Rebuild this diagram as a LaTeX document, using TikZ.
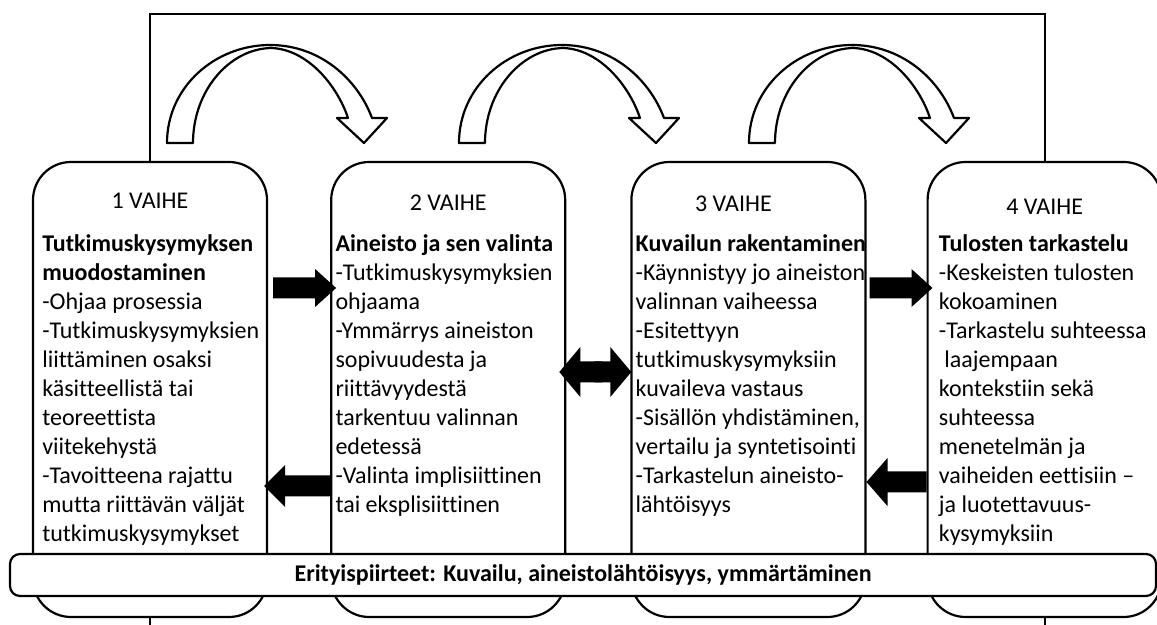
\documentclass[tikz,border=0pt]{standalone}
\usepackage{fontspec}
\setmainfont{Carlito}[Ligatures=NoCommon]
\usetikzlibrary{positioning, calc}

% black block arrow from #1 (tail) to #2 (tip), head half height #3
\newcommand{\blockarrow}[3]{%
  \fill let \p1=(#1), \p2=(#2), \n1={ifthenelse(\x2>\x1,1,-1)} in
    (\x1,\y1+5.25pt) -- (\x2-\n1*10.5pt,\y1+5.25pt) -- (\x2-\n1*10.5pt,\y1+#3) -- (\x2,\y1)
    -- (\x2-\n1*10.5pt,\y1-#3) -- (\x2-\n1*10.5pt,\y1-5.25pt) -- (\x1,\y1-5.25pt) -- cycle;}

\begin{document}
\begin{tikzpicture}[x=0.5pt, y=-0.5pt,
    every node/.style={font=\fontsize{12}{14.5}\selectfont},
    phase/.style={draw, line width=1.1pt, rounded corners=19pt, fill=white,
      minimum width=117pt, minimum height=227.5pt, inner sep=0pt},
    boxtext/.style={anchor=north west, align=left, inner sep=0pt},
    banner/.style={draw, line width=1.1pt, rounded corners=5pt, fill=white,
      minimum width=573pt, minimum height=21pt, inner sep=0pt, font=\fontsize{12}{14.5}\selectfont\bfseries},
    curvedarrow/.pic={
      \draw[line width=1.1pt, fill=white, line join=round]
        (0,0) -- (26,0) .. controls (26,-52) and (62,-94) .. (104,-95)
        .. controls (140,-94) and (170,-58) .. (181,-25) -- (170,-25) -- (197,0) -- (220,-25)
        -- (205,-25) .. controls (190,-65) and (152,-98) .. (103,-98)
        .. controls (48,-98) and (0,-56) .. (0,0) -- cycle;
    }]
    \useasboundingbox (0,0) rectangle (1157,625);

    % the four phases
    \node[phase] (b1) at (150,389.5) {};
    \node[phase] (b2) [right=31pt of b1] {};
    \node[phase] (b3) [right=32pt of b2] {};
    \node[phase] (b4) [right=30pt of b3] {};

    % frame round the process
    \draw[line width=1.1pt] (b1.north) -- (b1.north |- 0,14) -| (b4.north);
    \draw[line width=1.1pt] (b1.south) -- (b1.south |- 0,625);
    \draw[line width=1.1pt] (b4.south) -- (b4.south |- 0,625);

    \pic at (167,143) {curvedarrow};
    \pic at (459,143) {curvedarrow};
    \pic at (749,143) {curvedarrow};

    \node (h1) at ($(b1.north)+(0,40)$) {1 VAIHE};
    \node (h2) at ($(b2.north)+(0,42)$) {2 VAIHE};
    \node (h3) at ($(b3.north)+(-15,43)$) {3 VAIHE};
    \node (h4) at ($(b4.north)+(0,46)$) {4 VAIHE};

    \node[boxtext] (t1) at ($(b1.north west)+(10,73)$) {\textbf{Tutkimuskysymyksen}\\
      \textbf{muodostaminen}\\-Ohjaa prosessia\\-Tutkimuskysymyksien\\liittäminen osaksi\\
      käsitteellistä tai\\teoreettista\\viitekehystä\\-Tavoitteena rajattu\\
      mutta riittävän väljät\\tutkimuskysymykset};
    \node[boxtext] (t2) at ($(b2.north west)+(5,73)$) {\textbf{Aineisto ja sen valinta}\\
      -Tutkimuskysymyksien\\ohjaama\\-Ymmärrys aineiston\\sopivuudesta ja\\riittävyydestä\\
      tarkentuu valinnan\\edetessä\\-Valinta implisiittinen\\tai eksplisiittinen};
    \node[boxtext] (t3) at ($(b3.north west)+(5,73)$) {\textbf{Kuvailun rakentaminen}\\
      -Käynnistyy jo aineiston\\valinnan vaiheessa\\-Esitettyyn\\tutkimuskysymyksiin\\
      kuvaileva vastaus\\-Sisällön yhdistäminen,\\vertailu ja syntetisointi\\
      -Tarkastelun aineisto-\\lähtöisyys};
    \node[boxtext] (t4) at ($(b4.north west)+(12,73)$) {\textbf{Tulosten tarkastelu}\\
      -Keskeisten tulosten\\kokoaminen\\-Tarkastelu suhteessa\\\ laajempaan\\
      kontekstiin sekä\\suhteessa\\menetelmän ja\\vaiheiden eettisiin --\\
      ja luotettavuus-\\kysymyksiin};

    % arrows between the phases
    \coordinate (m23) at ($(b2.east)!0.5!(b3.west)$);
    \blockarrow{$(b1.east |- 0,288)+(5,0)$}{$(b2.west |- 0,288)+(6,0)$}{9.5pt}
    \blockarrow{$(b2.west |- 0,486)+(1,0)$}{$(b1.east |- 0,486)+(-4,0)$}{10.5pt}
    \blockarrow{$(b3.east |- 0,288)+(3,0)$}{$(b4.west |- 0,288)+(6,0)$}{9.5pt}
    \blockarrow{$(b4.west |- 0,482)$}{$(b3.east |- 0,482)$}{12pt}
    \blockarrow{$(m23 |- 0,372)+(4,0)$}{$(b2.east |- 0,372)+(-7,0)$}{12.5pt}
    \blockarrow{$(m23 |- 0,372)+(-4,0)$}{$(b3.west |- 0,372)+(1,0)$}{12.5pt}

    \node[banner] (ban) at (583,575) {Erityispiirteet: Kuvailu, aineistolähtöisyys, ymmärtäminen};
\end{tikzpicture}
\end{document}
